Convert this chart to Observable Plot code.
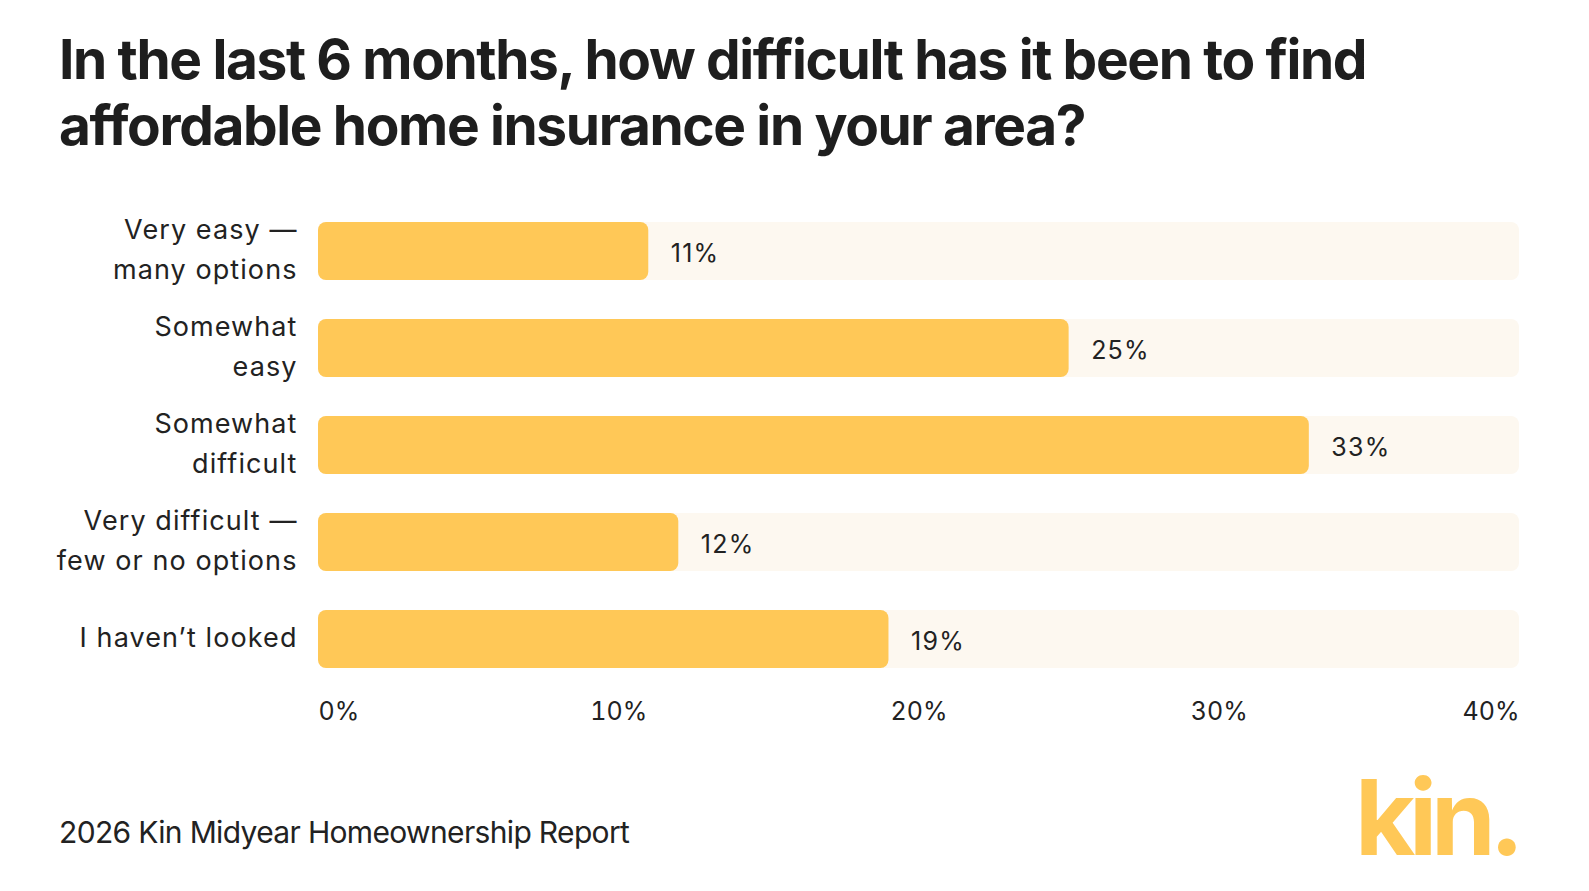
<!DOCTYPE html>
<html>
<head>
<meta charset="utf-8">
<script src="https://cdn.jsdelivr.net/npm/d3@7"></script>
<script src="https://cdn.jsdelivr.net/npm/@observablehq/plot@0.6"></script>
<style>
  html, body { margin: 0; padding: 0; background: #ffffff; }
  body { width: 1589px; height: 891px; position: relative; overflow: hidden; font-family: Inter, "Noto Sans", sans-serif; color: #222222; }
  #title { position: absolute; left: 59px; top: 26px; margin: 0; font-size: 55px; line-height: 66px; font-weight: 700; letter-spacing: -0.025em; color: #1e1e1e; }
  #chart { position: absolute; left: 0; top: 190px; }
  #chart g[aria-label="y-axis tick label"] text { letter-spacing: 0.04em; }
  #chart g[aria-label="text"] text { letter-spacing: 0.05em; }
  #caption { position: absolute; left: 59px; top: 817px; font-size: 30px; line-height: 30px; font-weight: 400; letter-spacing: -0.022em; color: #222222; }
  #logo { position: absolute; right: 71px; top: 765px; font-size: 104px; line-height: 104px; font-weight: 700; letter-spacing: -0.06em; color: #ffc857; }
</style>
</head>
<body>
<h1 id="title">In the last 6 months, how difficult has it been to find<br>affordable home insurance in your area?</h1>
<div id="chart"></div>
<div id="caption">2026 Kin Midyear Homeownership Report</div>
<div id="logo">kin.</div>
<script>
// Survey answers (top to bottom) and their shares in percent
const categories = [
  "Very easy —\nmany options",
  "Somewhat\neasy",
  "Somewhat\ndifficult",
  "Very difficult —\nfew or no options",
  "I haven’t looked"
];
const shares = [11, 25, 33, 12, 19];
const axisMax = 40;
const tickValues = [0, 10, 20, 30, 40];

const rows = categories.map((c, i) => ({category: c, share: shares[i]}));

const barColor = "#ffc857";
const trackColor = "#fdf8f0";
const ink = "#222222";
const fmtPct = d => `${d}%`;

const tickStyle = {tickSize: 0, tickPadding: 33, fontSize: 25, label: null, tickFormat: fmtPct, fill: ink};

const chart = Plot.plot({
  width: 1589,
  height: 560,
  marginLeft: 318,
  marginRight: 70,
  marginTop: 32,
  marginBottom: 81,
  style: {fontFamily: "Inter, 'Noto Sans', sans-serif", color: ink, background: "#ffffff"},
  x: {domain: [0, axisMax]},
  y: {domain: categories, paddingInner: 0.4, paddingOuter: 0},
  marks: [
    // full-width light track behind each bar
    Plot.barX(rows, {x1: 0, x2: axisMax, y: "category", fill: trackColor, rx: 8}),
    // the answer share
    Plot.barX(rows, {x1: 0, x2: "share", y: "category", fill: barColor, rx: 8}),
    // value labels to the right of each bar
    Plot.text(rows, {x: "share", y: "category", text: d => fmtPct(d.share), dx: 22, dy: 2, textAnchor: "start", fontSize: 25, fill: ink}),
    // category labels
    Plot.axisY({tickSize: 0, tickPadding: 21, dy: -5, fontSize: 27, lineHeight: 1.45, label: null, textAnchor: "end", fill: ink}),
    // percentage ticks: first flush left, last flush right, the rest centred
    Plot.axisX([tickValues[0]], {...tickStyle, textAnchor: "start"}),
    Plot.axisX(tickValues.slice(1, -1), {...tickStyle, textAnchor: "middle"}),
    Plot.axisX([tickValues[tickValues.length - 1]], {...tickStyle, textAnchor: "end"})
  ]
});
document.getElementById("chart").append(chart);
</script>
</body>
</html>
